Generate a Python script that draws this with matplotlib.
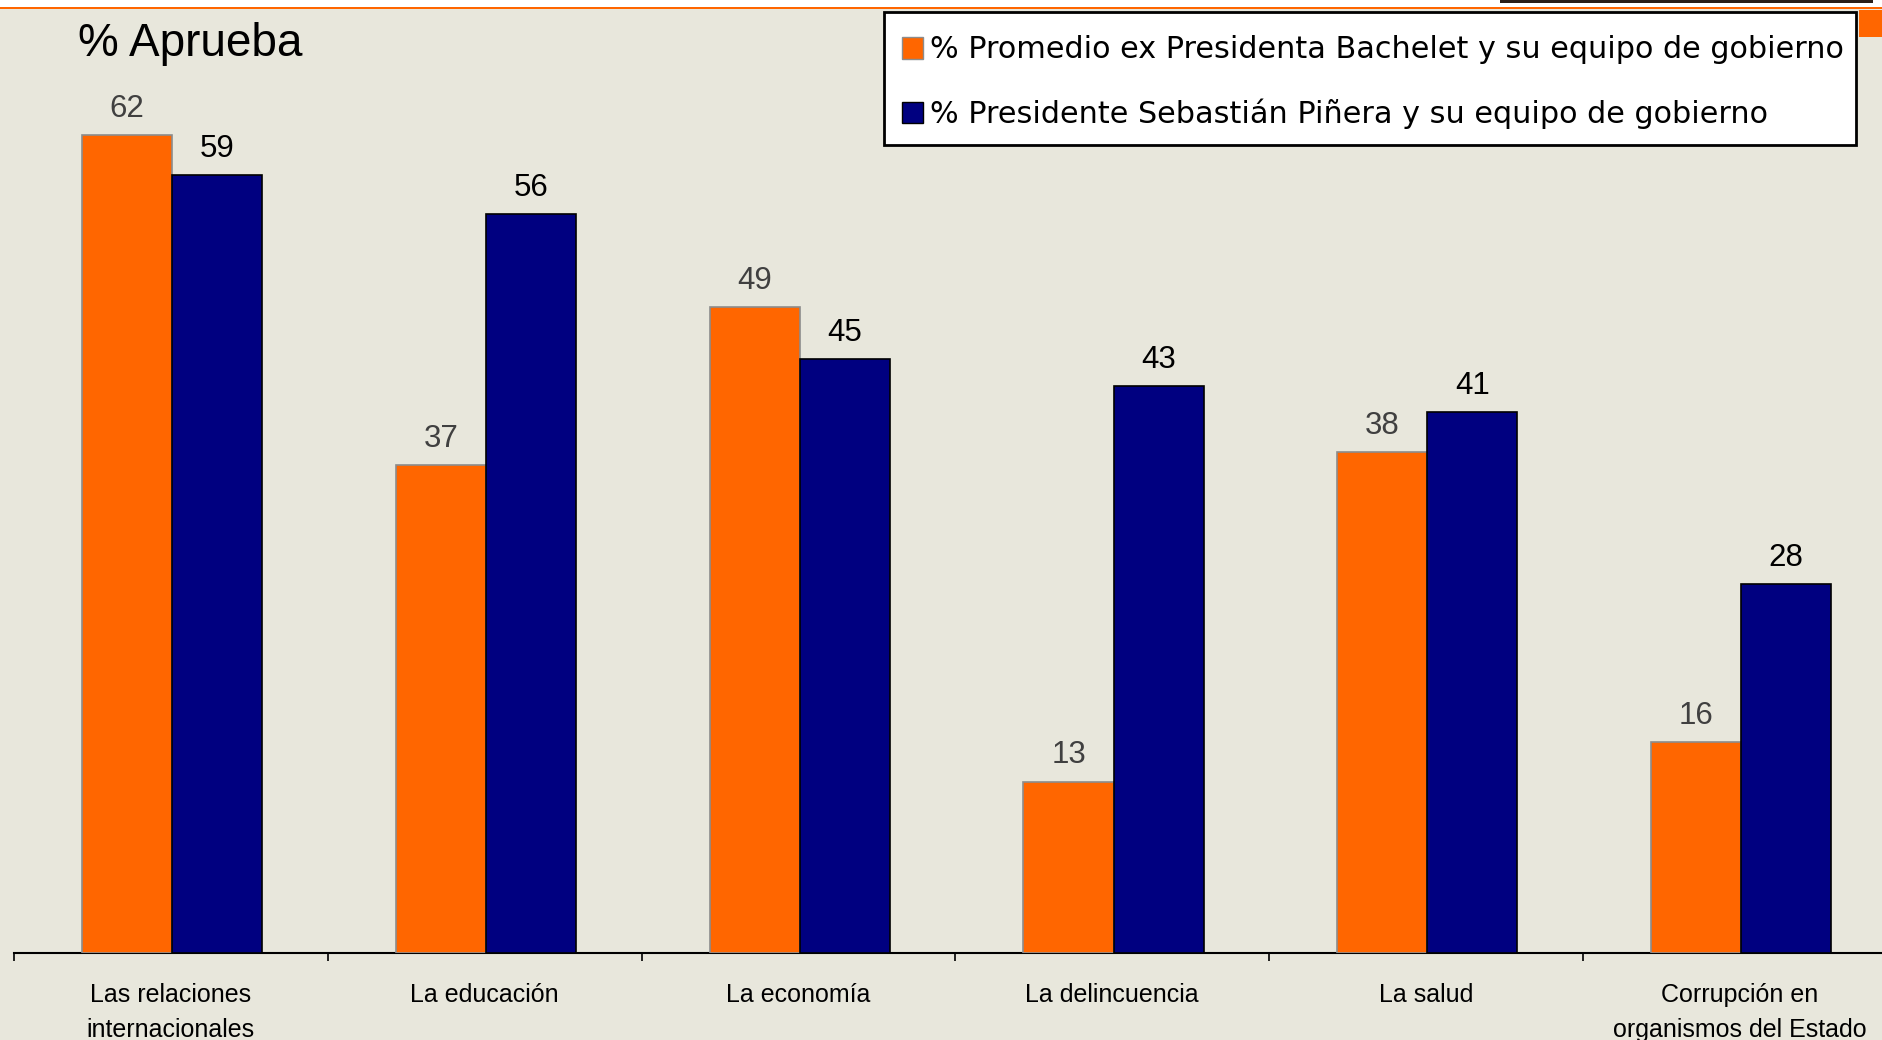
import matplotlib
matplotlib.use("Agg")
import matplotlib.pyplot as plt
from matplotlib.patches import Rectangle, Patch
import numpy as np

categories = ["Las relaciones\ninternacionales", "La educación", "La economía",
              "La delincuencia", "La salud", "Corrupción en\norganismos del Estado"]
bachelet = [62, 37, 49, 13, 38, 16]
pinera = [59, 56, 45, 43, 41, 28]
series_names = ["% Promedio ex Presidenta Bachelet y su equipo de gobierno",
                "% Presidente Sebastián Piñera y su equipo de gobierno"]
title = "% Aprueba"

BG = "#E8E7DC"
ORANGE = "#FF6600"
NAVY = "#000080"

W, H = 1883, 1040
fig = plt.figure(figsize=(W / 100, H / 100), dpi=100, facecolor=BG)

# axes geometry in pixels
base_px = 953
unit_px = 13.19
ymax = 70
left_px = 14
group_px = 313.8
ax = fig.add_axes([left_px / W, (H - base_px) / H, group_px * 6 / W, ymax * unit_px / H])
ax.set_facecolor(BG)
ax.set_xlim(-0.5, 5.5)
ax.set_ylim(0, ymax)

x = np.arange(len(categories)) + 0.004
bw = 0.287
ax.bar(x - bw / 2, bachelet, width=bw, color=ORANGE, edgecolor="#8C8C8C", linewidth=1.2, zorder=3)
ax.bar(x + bw / 2, pinera, width=bw, color=NAVY, edgecolor="black", linewidth=1.2, zorder=3)

for xi, v in zip(x, bachelet):
    ax.annotate(str(v), (xi - bw / 2, v), xytext=(0, 8), textcoords="offset points",
                ha="center", va="bottom", fontsize=22.5, color="#404040", family="Liberation Sans")
for xi, v in zip(x, pinera):
    ax.annotate(str(v), (xi + bw / 2, v), xytext=(0, 8), textcoords="offset points",
                ha="center", va="bottom", fontsize=22.5, color="black", family="Liberation Sans")

for s in ["top", "right", "left"]:
    ax.spines[s].set_visible(False)
ax.spines["bottom"].set_linewidth(1.5)
ax.spines["bottom"].set_color("black")
ax.set_yticks([])
ax.set_xticks(np.arange(-0.5, 6.0, 1.0))
ax.set_xticklabels([])
ax.tick_params(axis="x", which="major", direction="out", length=6, width=1.2, color="black")
ax.set_xticks(np.arange(len(categories)), minor=True)
ax.set_xticklabels(categories, minor=True, fontsize=18, family="Liberation Sans", linespacing=1.55)
ax.tick_params(axis="x", which="minor", length=0, pad=21.7)

# title
fig.text(78 / W, 1 - 43.5 / H, title, fontsize=33, family="Liberation Sans", va="center", ha="left")

# top decorations
fig.patches.append(Rectangle((0, 1 - 7 / H), 1, 7 / H, transform=fig.transFigure,
                             facecolor="white", edgecolor="none", zorder=0))
fig.patches.append(Rectangle((0, 1 - 9 / H), 1, 2 / H, transform=fig.transFigure,
                             facecolor=ORANGE, edgecolor="none", zorder=1))
fig.patches.append(Rectangle((1500 / W, 1 - 3 / H), 373 / W, 3 / H, transform=fig.transFigure,
                             facecolor="#2A1E18", edgecolor="none", zorder=1))
fig.patches.append(Rectangle((1859 / W, 1 - 37 / H), 24 / W, 27 / H, transform=fig.transFigure,
                             facecolor=ORANGE, edgecolor="none", zorder=1))

# legend box
fig.patches.append(Rectangle((884 / W, 1 - 145 / H), (1856 - 884) / W, (145 - 12) / H,
                             transform=fig.transFigure, facecolor="white", edgecolor="black",
                             linewidth=2, zorder=2))

handles = [Patch(facecolor=ORANGE, edgecolor="#8C8C8C"), Patch(facecolor=NAVY, edgecolor="black")]
leg = fig.legend(handles, series_names, loc="upper left", bbox_to_anchor=(902 / W, 1 - 35.5 / H),
                 bbox_transform=fig.transFigure, frameon=False,
                 prop={"family": "DejaVu Sans", "size": 21.8},
                 handlelength=0.7, handleheight=0.7, handletextpad=0.23,
                 labelspacing=1.13, borderpad=0, borderaxespad=0)
leg.set_zorder(5)

fig.savefig("out.png", dpi=100, facecolor=BG)
